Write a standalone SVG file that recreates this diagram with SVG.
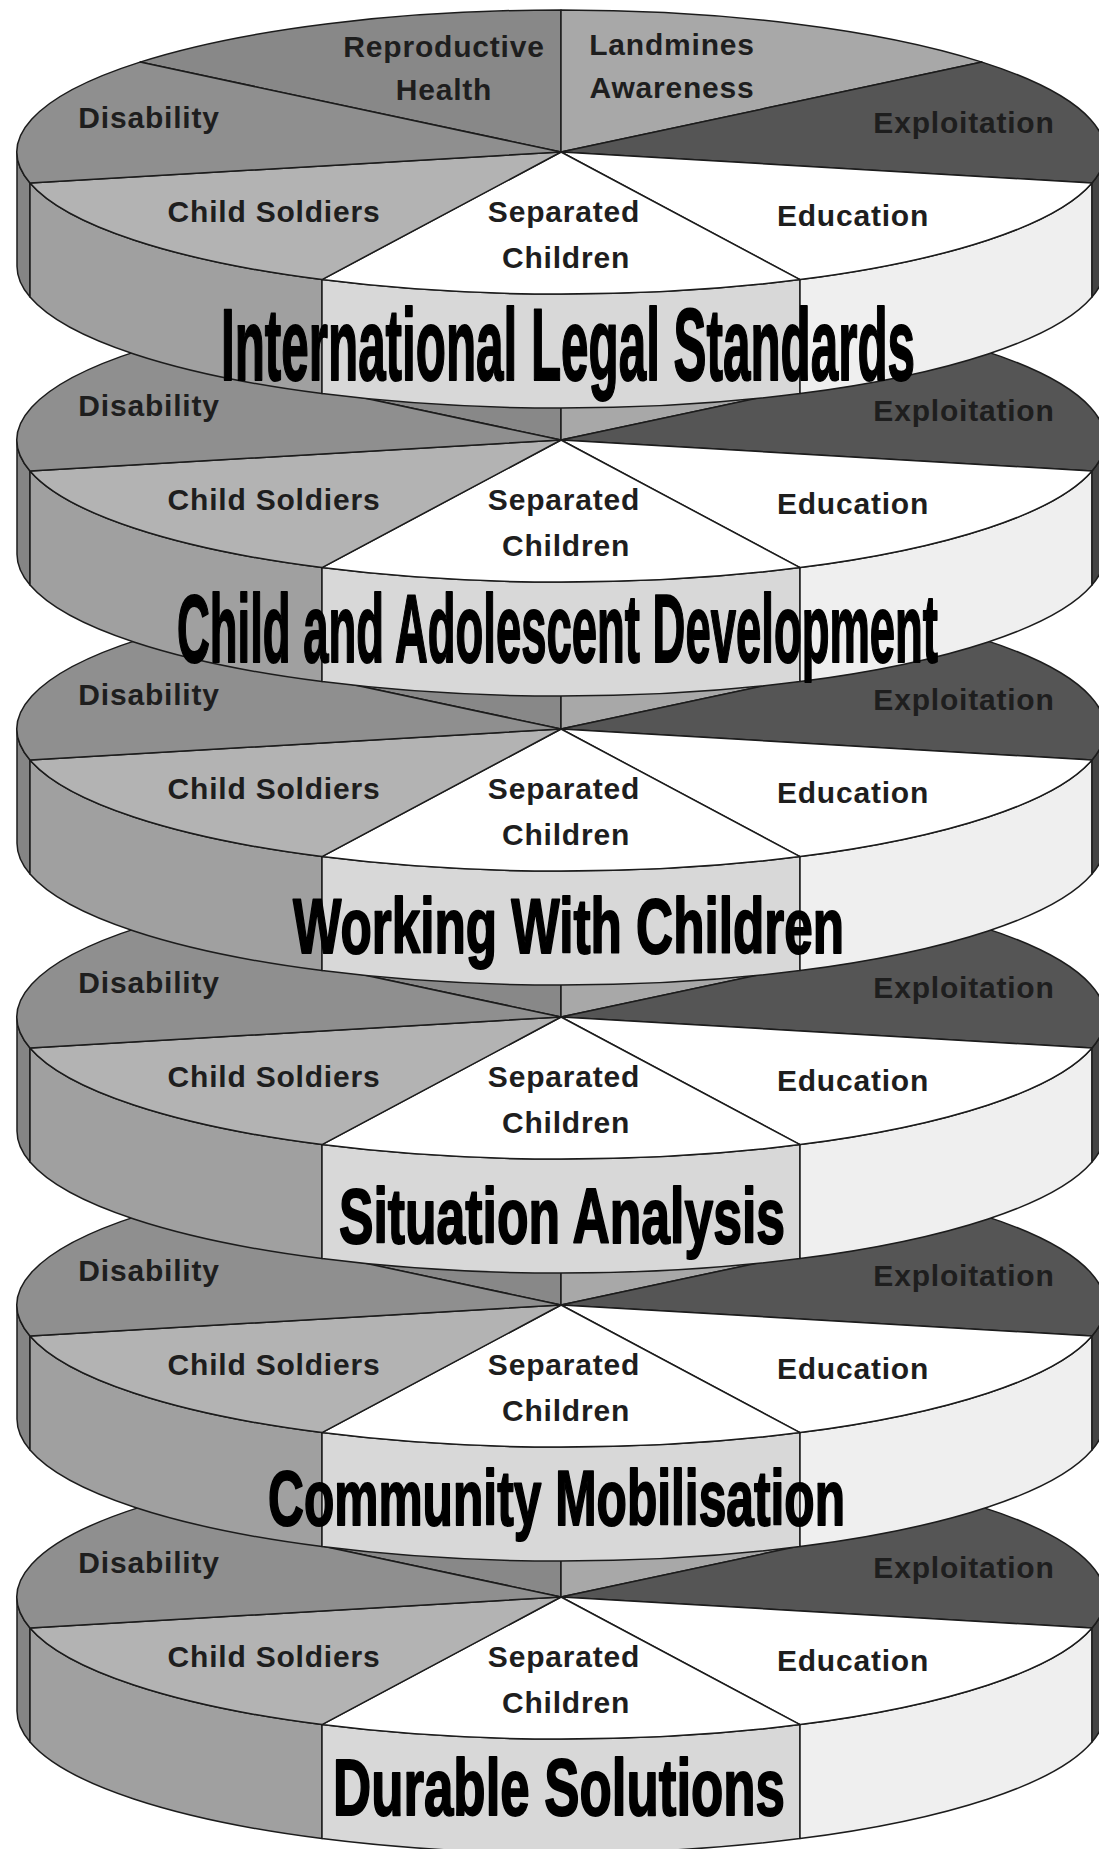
<svg xmlns="http://www.w3.org/2000/svg" xmlns:xlink="http://www.w3.org/1999/xlink" width="1099" height="1849" viewBox="0 0 1099 1849">
<style>
.e{stroke:#1c1c1c;stroke-width:1.5;stroke-linejoin:round}
.rep{fill:#888888}.land{fill:#a8a8a8}.expl{fill:#555555}.expls{fill:#444444}
.edu{fill:#ffffff}.edus{fill:#efefef}.sep{fill:#ffffff}.seps{fill:#d8d8d8}
.cs{fill:#b3b3b3}.css{fill:#a0a0a0}.dis{fill:#8f8f8f}.diss{fill:#858585}
.lbl{font-family:"Liberation Sans",Arial,sans-serif;font-weight:bold;font-size:30px;letter-spacing:0.8px;fill:#1e1e1e;text-anchor:middle}
.ttl{font-family:"Liberation Sans",Arial,sans-serif;font-weight:bold;fill:#000;stroke:#000;stroke-width:2;stroke-linejoin:round}
</style>
<defs>
<g id="disc">
<path class="e diss" d="M17,152 L17,266 A544,142 0 0 0 30,297 L30,183 A544,142 0 0 1 17,152 Z"/>
<path class="e css" d="M30,183 L30,297 A544,142 0 0 0 322,393.6 L322,279.6 A544,142 0 0 1 30,183 Z"/>
<path class="e seps" d="M322,279.6 L322,393.6 A544,142 0 0 0 800,393.6 L800,279.6 A544,142 0 0 1 322,279.6 Z"/>
<path class="e edus" d="M800,279.6 L800,393.6 A544,142 0 0 0 1092,297 L1092,183 A544,142 0 0 1 800,279.6 Z"/>
<path class="e expls" d="M1092,183 L1092,297 A544,142 0 0 0 1105,266 L1105,152 A544,142 0 0 1 1092,183 Z"/>
<path class="e rep" d="M561,152 L140,62.1 A544,142 0 0 1 561,10 Z"/>
<path class="e land" d="M561,152 L561,10 A544,142 0 0 1 982,62.1 Z"/>
<path class="e expl" d="M561,152 L982,62.1 A544,142 0 0 1 1092,183 Z"/>
<path class="e edu" d="M561,152 L1092,183 A544,142 0 0 1 800,279.6 Z"/>
<path class="e sep" d="M561,152 L800,279.6 A544,142 0 0 1 322,279.6 Z"/>
<path class="e cs" d="M561,152 L322,279.6 A544,142 0 0 1 30,183 Z"/>
<path class="e dis" d="M561,152 L30,183 A544,142 0 0 1 140,62.1 Z"/>
</g>
</defs>
<rect width="1099" height="1849" fill="#ffffff"/>
<g id="connectors"></g>

<g id="disc-durable-solutions" transform="translate(0,1445)">
<use xlink:href="#disc" href="#disc"/>
<text class="lbl" x="149" y="128">Disability</text>
<text class="lbl" x="964" y="133">Exploitation</text>
<text class="lbl" x="274" y="222">Child Soldiers</text>
<text class="lbl" x="564" y="222">Separated</text>
<text class="lbl" x="566" y="268">Children</text>
<text class="lbl" x="853" y="226">Education</text>
<text class="ttl" x="333" y="370" font-size="80" textLength="452" lengthAdjust="spacingAndGlyphs">Durable Solutions</text>
</g>

<g id="disc-community-mobilisation" transform="translate(0,1153)">
<use xlink:href="#disc" href="#disc"/>
<text class="lbl" x="149" y="128">Disability</text>
<text class="lbl" x="964" y="133">Exploitation</text>
<text class="lbl" x="274" y="222">Child Soldiers</text>
<text class="lbl" x="564" y="222">Separated</text>
<text class="lbl" x="566" y="268">Children</text>
<text class="lbl" x="853" y="226">Education</text>
<text class="ttl" x="268" y="372" font-size="78" textLength="577" lengthAdjust="spacingAndGlyphs">Community Mobilisation</text>
</g>

<g id="disc-situation-analysis" transform="translate(0,865)">
<use xlink:href="#disc" href="#disc"/>
<text class="lbl" x="149" y="128">Disability</text>
<text class="lbl" x="964" y="133">Exploitation</text>
<text class="lbl" x="274" y="222">Child Soldiers</text>
<text class="lbl" x="564" y="222">Separated</text>
<text class="lbl" x="566" y="268">Children</text>
<text class="lbl" x="853" y="226">Education</text>
<text class="ttl" x="339" y="378" font-size="78" textLength="446" lengthAdjust="spacingAndGlyphs">Situation Analysis</text>
</g>

<g id="disc-working-with-children" transform="translate(0,577)">
<use xlink:href="#disc" href="#disc"/>
<text class="lbl" x="149" y="128">Disability</text>
<text class="lbl" x="964" y="133">Exploitation</text>
<text class="lbl" x="274" y="222">Child Soldiers</text>
<text class="lbl" x="564" y="222">Separated</text>
<text class="lbl" x="566" y="268">Children</text>
<text class="lbl" x="853" y="226">Education</text>
<text class="ttl" x="293" y="376" font-size="78" textLength="551" lengthAdjust="spacingAndGlyphs">Working With Children</text>
</g>

<g id="disc-child-adolescent-development" transform="translate(0,288)">
<use xlink:href="#disc" href="#disc"/>
<text class="lbl" x="149" y="128">Disability</text>
<text class="lbl" x="964" y="133">Exploitation</text>
<text class="lbl" x="274" y="222">Child Soldiers</text>
<text class="lbl" x="564" y="222">Separated</text>
<text class="lbl" x="566" y="268">Children</text>
<text class="lbl" x="853" y="226">Education</text>
<text class="ttl" x="177" y="374" font-size="96" textLength="761" lengthAdjust="spacingAndGlyphs">Child and Adolescent Development</text>
</g>

<g id="disc-international-legal-standards">
<use xlink:href="#disc" href="#disc"/>
<text class="lbl" x="444" y="57">Reproductive</text>
<text class="lbl" x="444" y="100">Health</text>
<text class="lbl" x="672" y="55">Landmines</text>
<text class="lbl" x="672" y="98">Awareness</text>
<text class="lbl" x="149" y="128">Disability</text>
<text class="lbl" x="964" y="133">Exploitation</text>
<text class="lbl" x="274" y="222">Child Soldiers</text>
<text class="lbl" x="564" y="222">Separated</text>
<text class="lbl" x="566" y="268">Children</text>
<text class="lbl" x="853" y="226">Education</text>
<text class="ttl" x="221" y="380" font-size="102" textLength="694" lengthAdjust="spacingAndGlyphs">International Legal Standards</text>
</g>
</svg>
